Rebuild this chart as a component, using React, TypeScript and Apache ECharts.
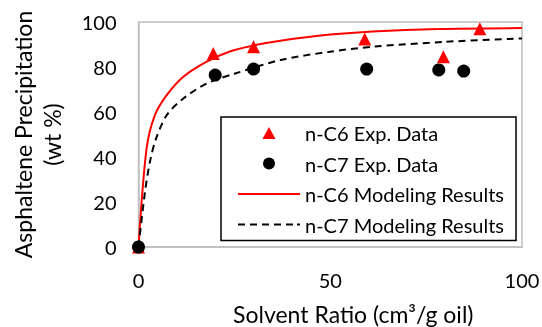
import React, { useEffect, useRef } from "react";
import * as echarts from "echarts";

const c6ExpX = [0, 19.5, 30, 59, 79.5, 89];
const c6ExpY = [0, 86, 89, 92.4, 84.6, 97];
const c7ExpX = [0, 20, 30, 59.5, 78.3, 84.8];
const c7ExpY = [0, 76.4, 79.1, 79.1, 78.7, 78.2];

const c6ModelX = [0, 2.1, 4.3, 7.4, 11.7, 17.8, 24, 30, 37, 50, 61, 78, 100];
const c6ModelY = [0, 43.7, 58.7, 67.6, 75.7, 82.4, 87, 89.6, 91.7, 94.4, 95.8, 96.9, 97.3];
const c7ModelX = [0, 1.7, 3, 4.6, 7.4, 11.7, 17.8, 25, 37, 50, 61, 80, 100];
const c7ModelY = [0, 24.6, 38, 48.3, 58.7, 66, 72.7, 77, 83.1, 86.8, 89, 91.2, 92.7];

const xTicks = [0, 50, 100];
const yTicks = [0, 20, 40, 60, 80, 100];

const names = [
  "n-C6 Exp. Data",
  "n-C7 Exp. Data",
  "n-C6 Modeling Results",
  "n-C7 Modeling Results",
];

const icons = [
  "path://M6,0L12,11L0,11Z",
  "path://M6,0A6,6 0 1 1 6,12A6,6 0 1 1 6,0Z",
  "path://M0,0H62V2H0Z",
  "path://M0,0H7V2H0Z M12,0H19V2H12Z M24,0H31V2H24Z M36,0H43V2H36Z M48,0H55V2H48Z M59,0H62V2H59Z",
];

const zip = (xs: number[], ys: number[]) => xs.map((x, i) => [x, ys[i]]);

export default function App() {
  const ref = useRef<HTMLDivElement>(null);
  useEffect(() => {
    if (!ref.current) return;
    const chart = echarts.init(ref.current, undefined, { renderer: "svg" });
    const font = "Lato";
    chart.setOption({
      animation: false,
      textStyle: { fontFamily: font },
      grid: {
        left: 138.5,
        right: 20,
        top: 22,
        bottom: 80,
        show: true,
        borderColor: "#bfbfbf",
        borderWidth: 1.5,
        outerBoundsMode: "none",
        containLabel: false,
      },
      xAxis: {
        type: "value",
        min: xTicks[0],
        max: xTicks[xTicks.length - 1],
        interval: 50,
        axisLine: { show: true, lineStyle: { color: "#bfbfbf", width: 1.5 } },
        axisTick: { show: false },
        splitLine: { show: false },
        axisLabel: { color: "#000", fontSize: 20, margin: 23, fontFamily: font },
        name: "Solvent Ratio (cm³/g oil)",
        nameLocation: "middle",
        nameGap: 55,
        nameTextStyle: { color: "#000", fontSize: 23, fontFamily: font, padding: [0, 0, 0, 46] },
      },
      yAxis: {
        type: "value",
        min: yTicks[0],
        max: yTicks[yTicks.length - 1],
        interval: 20,
        axisLine: { show: true, lineStyle: { color: "#bfbfbf", width: 1.5 } },
        axisTick: { show: false },
        splitLine: { show: false },
        axisLabel: { color: "#000", fontSize: 20, margin: 22, fontFamily: font },
        name: "Asphaltene Precipitation\n(wt %)",
        nameLocation: "middle",
        nameRotate: 90,
        nameGap: 72,
        nameTextStyle: { color: "#000", fontSize: 23, lineHeight: 29, fontFamily: font },
      },
      legend: {
        orient: "vertical",
        left: 221,
        top: 117,
        data: names.map((n, i) => ({ name: n, icon: icons[i], itemStyle: { borderWidth: 0 } })),
        itemWidth: 62,
        itemHeight: 12,
        itemGap: 10.5,
        symbolKeepAspect: true,
        padding: [6, 12, 6, 17],
        borderColor: "#000",
        borderWidth: 1.5,
        backgroundColor: "#fff",
        textStyle: { color: "#000", fontSize: 20, fontFamily: font },
      },
      series: [
        {
          name: names[2],
          type: "line",
          data: zip(c6ModelX, c6ModelY),
          smooth: 0.3,
          symbol: "none",
          lineStyle: { color: "#ff0000", width: 2 },
          itemStyle: { color: "#ff0000" },
          z: 2,
        },
        {
          name: names[3],
          type: "line",
          data: zip(c7ModelX, c7ModelY),
          smooth: 0.3,
          symbol: "none",
          lineStyle: { color: "#000", width: 2, type: [7, 5] },
          itemStyle: { color: "#000" },
          z: 2,
        },
        {
          name: names[0],
          type: "scatter",
          data: zip(c6ExpX, c6ExpY),
          symbol: "triangle",
          symbolSize: 13,
          itemStyle: { color: "#ff0000", opacity: 1 },
          z: 3,
        },
        {
          name: names[1],
          type: "scatter",
          data: zip(c7ExpX, c7ExpY),
          symbol: "circle",
          symbolSize: 13,
          itemStyle: { color: "#000", opacity: 1 },
          z: 4,
        },
      ],
    });
    return () => chart.dispose();
  }, []);
  return (
    <div
      ref={ref}
      style={{ position: "fixed", left: 0, top: 0, width: 542, height: 327 }}
    />
  );
}
